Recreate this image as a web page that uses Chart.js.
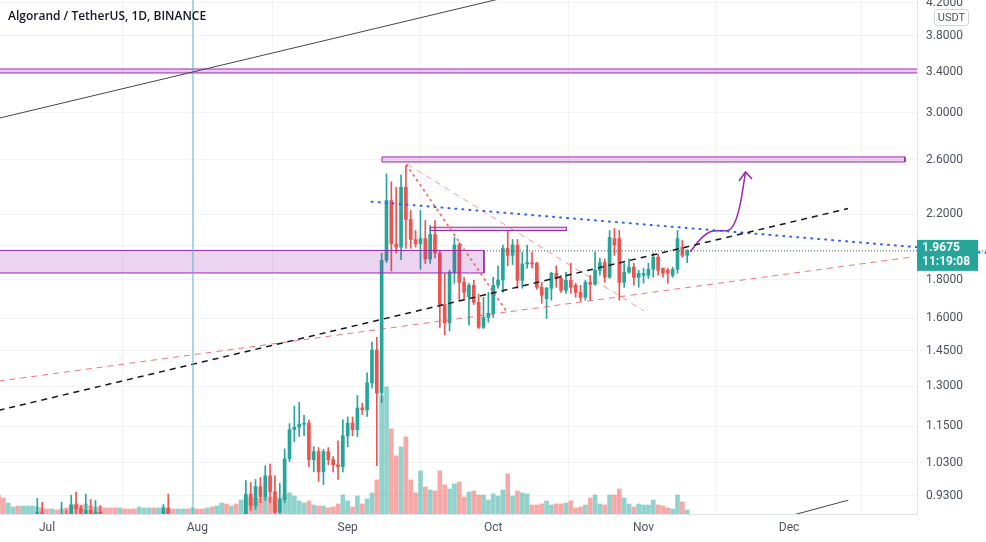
<!DOCTYPE html>
<html><head><meta charset="utf-8">
<script src="https://cdn.jsdelivr.net/npm/chart.js@4.4.0/dist/chart.umd.min.js"></script>
<style>html,body{margin:0;padding:0;background:#fff;}canvas{display:block;}</style>
</head><body>
<canvas id="c" width="986" height="542"></canvas>
<script>
// ---------- data (day index: 0 = 2021-07-01) ----------
const chartTitle = 'Algorand / TetherUS, 1D, BINANCE';
const quoteCurrency = 'USDT';
const firstDay = -10;
const opens = [0.86,0.80,0.72,0.82,0.84,0.80,0.81,0.84,0.86,0.885,0.87,0.85,0.86,0.84,0.88,0.87,0.905,0.895,0.87,0.89,0.875,0.885,0.85,0.84,0.82,0.80,0.82,0.77,0.74,0.70,0.75,0.78,0.80,0.79,0.83,0.895,0.85,0.84,0.85,0.86,0.85,0.86,0.84,0.83,0.85,0.81,0.83,0.86,0.84,0.85,0.84,0.87,0.935,0.903,0.957,0.928,0.989,0.942,0.885,0.920,1.042,1.139,1.148,1.158,1.162,1.039,1.065,1.001,1.065,1.039,1.023,1.017,1.118,1.162,1.139,1.217,1.210,1.314,1.453,1.274,1.912,2.295,2.01,1.990,2.39,2.166,2.037,2.011,2.043,1.919,2.069,1.954,1.67,1.579,1.843,2.003,1.787,1.71,1.771,1.681,1.557,1.605,1.625,1.771,1.80,1.983,1.941,2.003,1.798,1.89,1.898,1.894,1.76,1.70,1.755,1.837,1.809,1.744,1.798,1.771,1.733,1.707,1.787,1.776,1.854,1.898,1.815,2.043,2.043,1.787,1.843,1.872,1.815,1.826,1.826,1.86,1.93,1.866,1.854,1.826,1.86,1.99,1.941];
const highs = [0.875,0.82,0.84,0.87,0.86,0.83,0.85,0.87,0.923,0.912,0.88,0.875,0.87,0.912,0.89,0.932,0.941,0.903,0.935,0.92,0.917,0.903,0.87,0.86,0.84,0.83,0.83,0.79,0.76,0.76,0.79,0.81,0.82,0.84,0.906,0.935,0.87,0.86,0.87,0.875,0.87,0.875,0.86,0.86,0.87,0.84,0.87,0.875,0.86,0.87,0.875,0.975,0.969,0.978,0.984,1.02,1.025,0.989,0.966,1.074,1.16,1.224,1.238,1.19,1.174,1.081,1.078,1.072,1.078,1.049,1.101,1.174,1.184,1.184,1.264,1.235,1.355,1.489,1.511,1.954,2.49,2.43,2.39,2.48,2.553,2.226,2.094,2.226,2.159,2.126,2.159,1.97,1.837,1.854,2.05,2.017,1.815,1.782,1.798,1.723,1.707,1.733,1.815,1.88,2.003,2.094,2.037,2.037,1.96,2.003,1.96,1.90,1.787,1.76,1.843,1.88,1.826,1.843,1.894,1.782,1.771,1.798,1.826,1.96,1.925,1.92,2.094,2.107,2.094,1.894,1.92,1.894,1.854,1.866,1.894,1.954,1.948,1.866,1.866,1.872,2.094,2.031,1.975];
const lows = [0.78,0.70,0.70,0.80,0.78,0.77,0.79,0.82,0.85,0.86,0.83,0.84,0.83,0.83,0.86,0.86,0.87,0.86,0.86,0.87,0.86,0.84,0.82,0.80,0.79,0.78,0.76,0.72,0.68,0.69,0.74,0.76,0.78,0.78,0.82,0.84,0.82,0.82,0.83,0.84,0.83,0.83,0.81,0.82,0.80,0.79,0.82,0.82,0.82,0.83,0.83,0.86,0.89,0.893,0.911,0.917,0.911,0.866,0.871,0.911,1.033,1.098,1.115,1.118,1.017,1.001,0.972,0.963,1.023,1.001,0.978,1.001,1.081,1.118,1.115,1.193,1.186,1.294,1.020,1.237,1.898,1.85,1.954,1.915,1.983,1.983,1.99,1.86,1.893,1.893,1.925,1.557,1.522,1.541,1.782,1.692,1.692,1.568,1.67,1.552,1.552,1.582,1.605,1.755,1.733,1.88,1.887,1.755,1.755,1.866,1.866,1.75,1.676,1.60,1.692,1.76,1.733,1.728,1.728,1.707,1.687,1.692,1.692,1.771,1.826,1.787,1.809,1.941,1.692,1.76,1.837,1.771,1.76,1.782,1.809,1.815,1.826,1.815,1.782,1.815,1.837,1.93,1.898];
const closes = [0.80,0.72,0.82,0.84,0.80,0.81,0.84,0.86,0.885,0.87,0.85,0.86,0.84,0.88,0.87,0.905,0.895,0.87,0.89,0.875,0.885,0.85,0.84,0.82,0.80,0.82,0.77,0.74,0.70,0.75,0.78,0.80,0.79,0.83,0.895,0.85,0.84,0.85,0.86,0.85,0.86,0.84,0.83,0.85,0.81,0.83,0.86,0.84,0.85,0.84,0.87,0.935,0.903,0.957,0.928,0.989,0.942,0.885,0.920,1.042,1.139,1.148,1.158,1.162,1.039,1.065,1.001,1.065,1.039,1.023,1.017,1.118,1.162,1.139,1.217,1.210,1.314,1.453,1.274,1.912,2.295,2.01,1.990,2.39,2.166,2.037,2.011,2.043,1.919,2.069,1.954,1.67,1.579,1.843,2.003,1.787,1.733,1.771,1.681,1.557,1.605,1.625,1.771,1.80,1.983,1.941,2.003,1.798,1.89,1.898,1.89,1.76,1.718,1.755,1.837,1.809,1.744,1.798,1.76,1.733,1.707,1.787,1.776,1.854,1.898,1.815,2.05,2.003,1.787,1.843,1.872,1.815,1.837,1.837,1.86,1.93,1.854,1.837,1.837,1.86,2.043,1.941,1.9675];
const volumes = [38,32,22,14,16,16,16,16,14,12,10,10,8,10,12,18,20,18,20,16,14,14,12,12,12,12,10,10,10,14,12,12,12,12,14,12,10,10,10,10,12,10,10,12,14,16,22,20,16,20,28,34,34,32,32,36,34,30,32,38,42,36,26,22,26,18,16,16,12,14,20,38,26,14,36,20,30,42,68,236,254,170,116,134,154,68,42,86,54,48,46,86,58,50,60,64,34,44,46,38,38,28,40,36,48,80,36,46,42,40,18,18,20,26,18,20,20,22,26,12,14,18,32,38,20,18,38,38,50,32,20,14,20,18,18,28,18,16,12,10,38,24,8];
const priceTicks = [4.2, 3.8, 3.4, 3.0, 2.6, 2.2, 2.0, 1.8, 1.6, 1.45, 1.3, 1.15, 1.03, 0.93];
const monthStarts = [0, 31, 62, 92, 123, 153];
const monthNames = ['Jul', 'Aug', 'Sep', 'Oct', 'Nov', 'Dec'];
const lastPrice = 1.9675;
const barCountdown = '11:19:08';
// drawings, points as [day, price]
const blackTrendTop = [[-10, 2.951], [93, 4.247]];
const blackTrendBottom = [[150.3, 0.865], [165.2, 0.918]];
const blueVerticalDay = 30.1;
const band34 = [[-12, 3.431], [200, 3.431], [200, 3.390], [-12, 3.390], [-12, 3.431]];
const box26 = [[69.07, 2.622], [176.9, 2.622], [176.9, 2.582], [69.07, 2.582], [69.07, 2.622]];
const boxSupport = [[-12, 1.970], [90.1, 1.970], [90.1, 1.839], [-12, 1.839], [-12, 1.970]];
const boxSmall = [[79.07, 2.115], [107.11, 2.115], [107.11, 2.094], [79.07, 2.094], [79.07, 2.115]];
const blueDotted = [[66.95, 2.287], [193.6, 1.955]];
const blackDashed = [[-10, 1.208], [165.15, 2.239]];
const redDashedLong = [[-10, 1.321], [178.35, 1.931]];
const redDotted = [[74.16, 2.558], [95.05, 1.6245]];
const redDashedSteep = [[74.23, 2.566], [123.09, 1.637]];
const purplePath = [[132.58, 1.962], [135.26, 2.055], [137.32, 2.091], [140.21, 2.093], [141.86, 2.149], [142.89, 2.264], [143.71, 2.429], [144.02, 2.504]];
const purpleArrowHead = [[142.68, 2.436], [144.02, 2.504], [145.36, 2.451]];
const priceLineDays = [90.1, 193.6];

// ---------- chart ----------
const GREEN = '#26a69a', RED = '#ef5350', PURPLE = '#9c27b0';
const days = opens.map((_, i) => firstDay + i);
const up = i => closes[i] >= opens[i];
const P = arr => arr.map(p => ({x: p[0], y: p[1]}));
const lineDs = (data, color, width, dash, extra) => Object.assign({
  type: 'line', data: P(data), borderColor: color, borderWidth: width, borderDash: dash || [],
  pointRadius: 0, fill: false, tension: 0, order: 1, xAxisID: 'x', yAxisID: 'y'
}, extra || {});

const datasets = [
  { type: 'bar', yAxisID: 'v', xAxisID: 'x', order: 30, grouped: false, barThickness: 4,
    data: days.map((d, i) => ({x: d, y: volumes[i]})),
    backgroundColor: c => up(c.dataIndex) ? 'rgba(38,166,154,0.5)' : 'rgba(239,83,80,0.5)' },
  { type: 'bar', yAxisID: 'y', xAxisID: 'x', order: 20, grouped: false, barThickness: 1,
    data: days.map((d, i) => ({x: d, y: [lows[i], highs[i]]})),
    backgroundColor: c => up(c.dataIndex) ? GREEN : RED },
  { type: 'bar', yAxisID: 'y', xAxisID: 'x', order: 19, grouped: false, barThickness: 3, minBarLength: 1,
    data: days.map((d, i) => ({x: d, y: [opens[i], closes[i]]})),
    backgroundColor: c => up(c.dataIndex) ? GREEN : RED },
  lineDs(boxSupport, PURPLE, 1, [], {fill: 'shape', backgroundColor: 'rgba(156,39,176,0.2)', order: 3}),
  lineDs(band34, PURPLE, 1, [], {fill: 'shape', backgroundColor: 'rgba(156,39,176,0.2)', order: 3}),
  lineDs(box26, PURPLE, 1, [], {fill: 'shape', backgroundColor: 'rgba(156,39,176,0.2)', order: 3}),
  lineDs(boxSmall, PURPLE, 1, [], {fill: 'shape', backgroundColor: 'rgba(156,39,176,0.2)', order: 3}),
  lineDs(blackTrendTop, '#434651', 1),
  lineDs(blackTrendBottom, '#434651', 1),
  lineDs([[blueVerticalDay, 0.5], [blueVerticalDay, 6]], '#5aafcf', 1),
  lineDs(blackDashed, '#131722', 1.5, [6, 5]),
  lineDs(redDashedLong, 'rgba(239,83,80,0.8)', 1, [6, 5]),
  lineDs(redDashedSteep, 'rgba(239,83,80,0.6)', 1, [6, 5]),
  lineDs(redDotted, 'rgba(239,83,80,0.8)', 2, [1, 5], {borderCapStyle: 'round'}),
  lineDs(blueDotted, '#2962ff', 2, [1, 6], {borderCapStyle: 'round', clip: {left: 0, top: 0, right: 80, bottom: 0}}),
  lineDs(priceLineDays.map(d => [d, lastPrice]), '#3f5b59', 1, [1, 2], {clip: {left: 0, top: 0, right: 80, bottom: 0}}),
  lineDs(purplePath, PURPLE, 1.5, [], {cubicInterpolationMode: 'monotone'}),
  lineDs(purpleArrowHead, PURPLE, 1.5)
];

const overlay = {
  id: 'overlay',
  afterDraw(chart) {
    const ctx = chart.ctx, y = chart.scales.y, area = chart.chartArea;
    ctx.save();
    // title
    ctx.fillStyle = '#131722';
    ctx.font = '600 12px "Open Sans"';
    ctx.textBaseline = 'middle';
    ctx.textAlign = 'left';
    ctx.fillText(chartTitle, 8, 17);
    // currency badge
    const bx = area.right + 17, by = 9, bw = 34, bh = 16;
    ctx.fillStyle = '#fff';
    ctx.strokeStyle = '#d1d4dc';
    ctx.lineWidth = 1;
    ctx.beginPath();
    ctx.roundRect(bx + 0.5, by + 0.5, bw, bh, 3);
    ctx.fill(); ctx.stroke();
    ctx.fillStyle = '#50535e';
    ctx.font = '11px Roboto';
    ctx.textAlign = 'center';
    ctx.fillText(quoteCurrency, bx + bw / 2 + 0.5, by + bh / 2 + 1);
    // last price label
    const py = y.getPixelForValue(lastPrice);
    ctx.fillStyle = GREEN;
    ctx.fillRect(area.right, py - 11, 61, 31);
    ctx.fillStyle = '#fff';
    ctx.font = 'bold 12px Roboto';
    ctx.textAlign = 'left';
    ctx.fillText(lastPrice.toFixed(4), area.right + 5, py - 3);
    ctx.fillText(barCountdown, area.right + 5, py + 11);
    ctx.restore();
  }
};

new Chart(document.getElementById('c'), {
  type: 'bar',
  data: { datasets },
  options: {
    responsive: false, animation: false, devicePixelRatio: 1,
    layout: { padding: 0 },
    plugins: { legend: { display: false }, tooltip: { enabled: false } },
    scales: {
      x: {
        type: 'linear', min: -9.691, max: 179.381, offset: false,
        grid: { color: 'rgba(42,46,57,0.06)', drawTicks: false },
        border: { display: true, color: '#e0e3eb' },
        ticks: { padding: 7, color: '#4c525e', font: { size: 12, family: 'Roboto' }, autoSkip: false, maxRotation: 0,
          callback: v => monthNames[monthStarts.indexOf(v)] || '' },
        afterBuildTicks: s => { s.ticks = monthStarts.map(v => ({ value: v })); },
        afterFit: s => { s.height = 28; s.paddingLeft = 0; s.paddingRight = 0; }
      },
      y: {
        type: 'logarithmic', position: 'right', min: 0.880, max: 4.237,
        grid: { color: 'rgba(42,46,57,0.06)', drawTicks: false },
        border: { display: true, color: '#e0e3eb' },
        ticks: { padding: 9, color: '#4c525e', font: { size: 12, family: 'Roboto' }, autoSkip: false,
          callback: v => Number(v).toFixed(4) },
        afterBuildTicks: s => { s.ticks = priceTicks.map(v => ({ value: v })); },
        afterFit: s => { s.width = 69; s.paddingTop = 0; s.paddingBottom = 0; }
      },
      v: { type: 'linear', display: false, min: 0, max: 1026 }
    }
  },
  plugins: [overlay]
});
</script>
</body></html>
